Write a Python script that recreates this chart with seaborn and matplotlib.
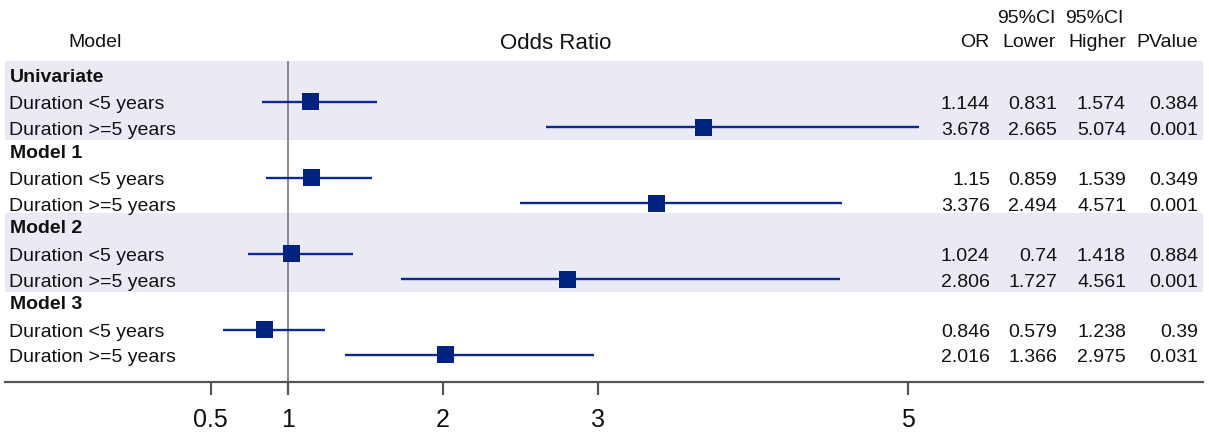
import numpy as np
import pandas as pd
import matplotlib
matplotlib.use("Agg")
import matplotlib.pyplot as plt
import matplotlib.transforms as mtransforms
import seaborn as sns

# === data ===
models = ["Univariate", "Model 1", "Model 2", "Model 3"]
exposures = ["Duration <5 years", "Duration >=5 years"]
odds_ratio = [1.144, 3.678, 1.15, 3.376, 1.024, 2.806, 0.846, 2.016]
ci_lower = [0.831, 2.665, 0.859, 2.494, 0.74, 1.727, 0.579, 1.366]
ci_upper = [1.574, 5.074, 1.539, 4.571, 1.418, 4.561, 1.238, 2.975]
p_value = [0.384, 0.001, 0.349, 0.001, 0.884, 0.001, 0.39, 0.031]
x_ticks = [0.5, 1, 2, 3, 5]

sns.set_theme(style="white")
plt.rcParams["font.family"] = ["Liberation Sans", "DejaVu Sans"]
plt.rcParams["text.color"] = "#111111"
plt.rcParams["xtick.labelcolor"] = "#111111"

# === row layout: header row per model, then one row per exposure ===
header_rows = []
labels, rows = [], []
pos = 0
for m in models:
    header_rows.append(pos)
    pos += 1
    for e in exposures:
        labels.append(e)
        rows.append(pos)
        pos += 1

df = pd.DataFrame({
    "row": rows, "label": labels, "OR": odds_ratio,
    "lower": ci_lower, "upper": ci_upper, "p": p_value,
})

W, H = 1209, 435
fig = plt.figure(figsize=(W / 100, H / 100), dpi=100)
ax = fig.add_axes([5 / W, 52 / H, 1198 / W, 383 / H])

# linear x scale: x=1 at pixel 288, 155 px per unit
ax.set_xlim(1 - 283 / 155, 1 + 915 / 155)
ax.set_ylim(12.07, -3.07)

# shaded bands for Univariate and Model 2
for i in (0, 2):
    r = header_rows[i]
    ax.axhspan(r - 0.6, r + 2.5, color="#e9eaf3", zorder=0, lw=0)

ax.vlines(1, -0.6, 12.07, color="#808080", lw=1.3, zorder=1)

ax.hlines(df["row"], df["lower"], df["upper"], color="#0b2a8c", lw=1.7, zorder=2)
sns.scatterplot(data=df, x="OR", y="row", marker="s", s=150, color="#00237f",
                edgecolor="none", ax=ax, zorder=3, legend=False)

# axes styling
for side in ("top", "right", "left"):
    ax.spines[side].set_visible(False)
ax.spines["bottom"].set_color("#555555")
ax.spines["bottom"].set_linewidth(1.6)
ax.set_yticks([])
ax.set_xticks(x_ticks)
ax.set_xticklabels([f"{t:g}" for t in x_ticks], fontsize=18)
ax.tick_params(axis="x", direction="out", length=9, width=1.6, color="#555555",
               pad=9, bottom=True)
ax.set_xlabel("")
ax.set_ylabel("")

# text columns (x in figure pixels, y in rows)
tr = mtransforms.blended_transform_factory(fig.transFigure, ax.transData)
px = lambda p: p / W
fs = 14

for m, r in zip(models, header_rows):
    ax.text(px(10), r - 0.1, m, transform=tr, fontsize=fs, fontweight="bold",
            va="center_baseline", ha="left")
for _, d in df.iterrows():
    ax.text(px(9), d["row"], d["label"], transform=tr, fontsize=fs,
            va="center_baseline", ha="left")
    for xr, v in zip((990, 1057, 1126, 1198), (d["OR"], d["lower"], d["upper"], d["p"])):
        ax.text(px(xr), d["row"], f"{v:g}", transform=tr, fontsize=fs,
                va="center_baseline", ha="right")

hy, hy2 = -1.45, -2.4
ax.text(px(95), hy, "Model", transform=tr, fontsize=fs, ha="center", va="center_baseline")
ax.text(px(556), hy, "Odds Ratio", transform=tr, fontsize=16, ha="center", va="center_baseline")
ax.text(px(989), hy, "OR", transform=tr, fontsize=fs, ha="right", va="center_baseline")
ax.text(px(1056), hy, "Lower", transform=tr, fontsize=fs, ha="right", va="center_baseline")
ax.text(px(1126), hy, "Higher", transform=tr, fontsize=fs, ha="right", va="center_baseline")
ax.text(px(1198), hy, "PValue", transform=tr, fontsize=fs, ha="right", va="center_baseline")
ax.text(px(1056), hy2, "95%CI", transform=tr, fontsize=fs, ha="right", va="center_baseline")
ax.text(px(1124), hy2, "95%CI", transform=tr, fontsize=fs, ha="right", va="center_baseline")

fig.savefig("out.png", dpi=100)
